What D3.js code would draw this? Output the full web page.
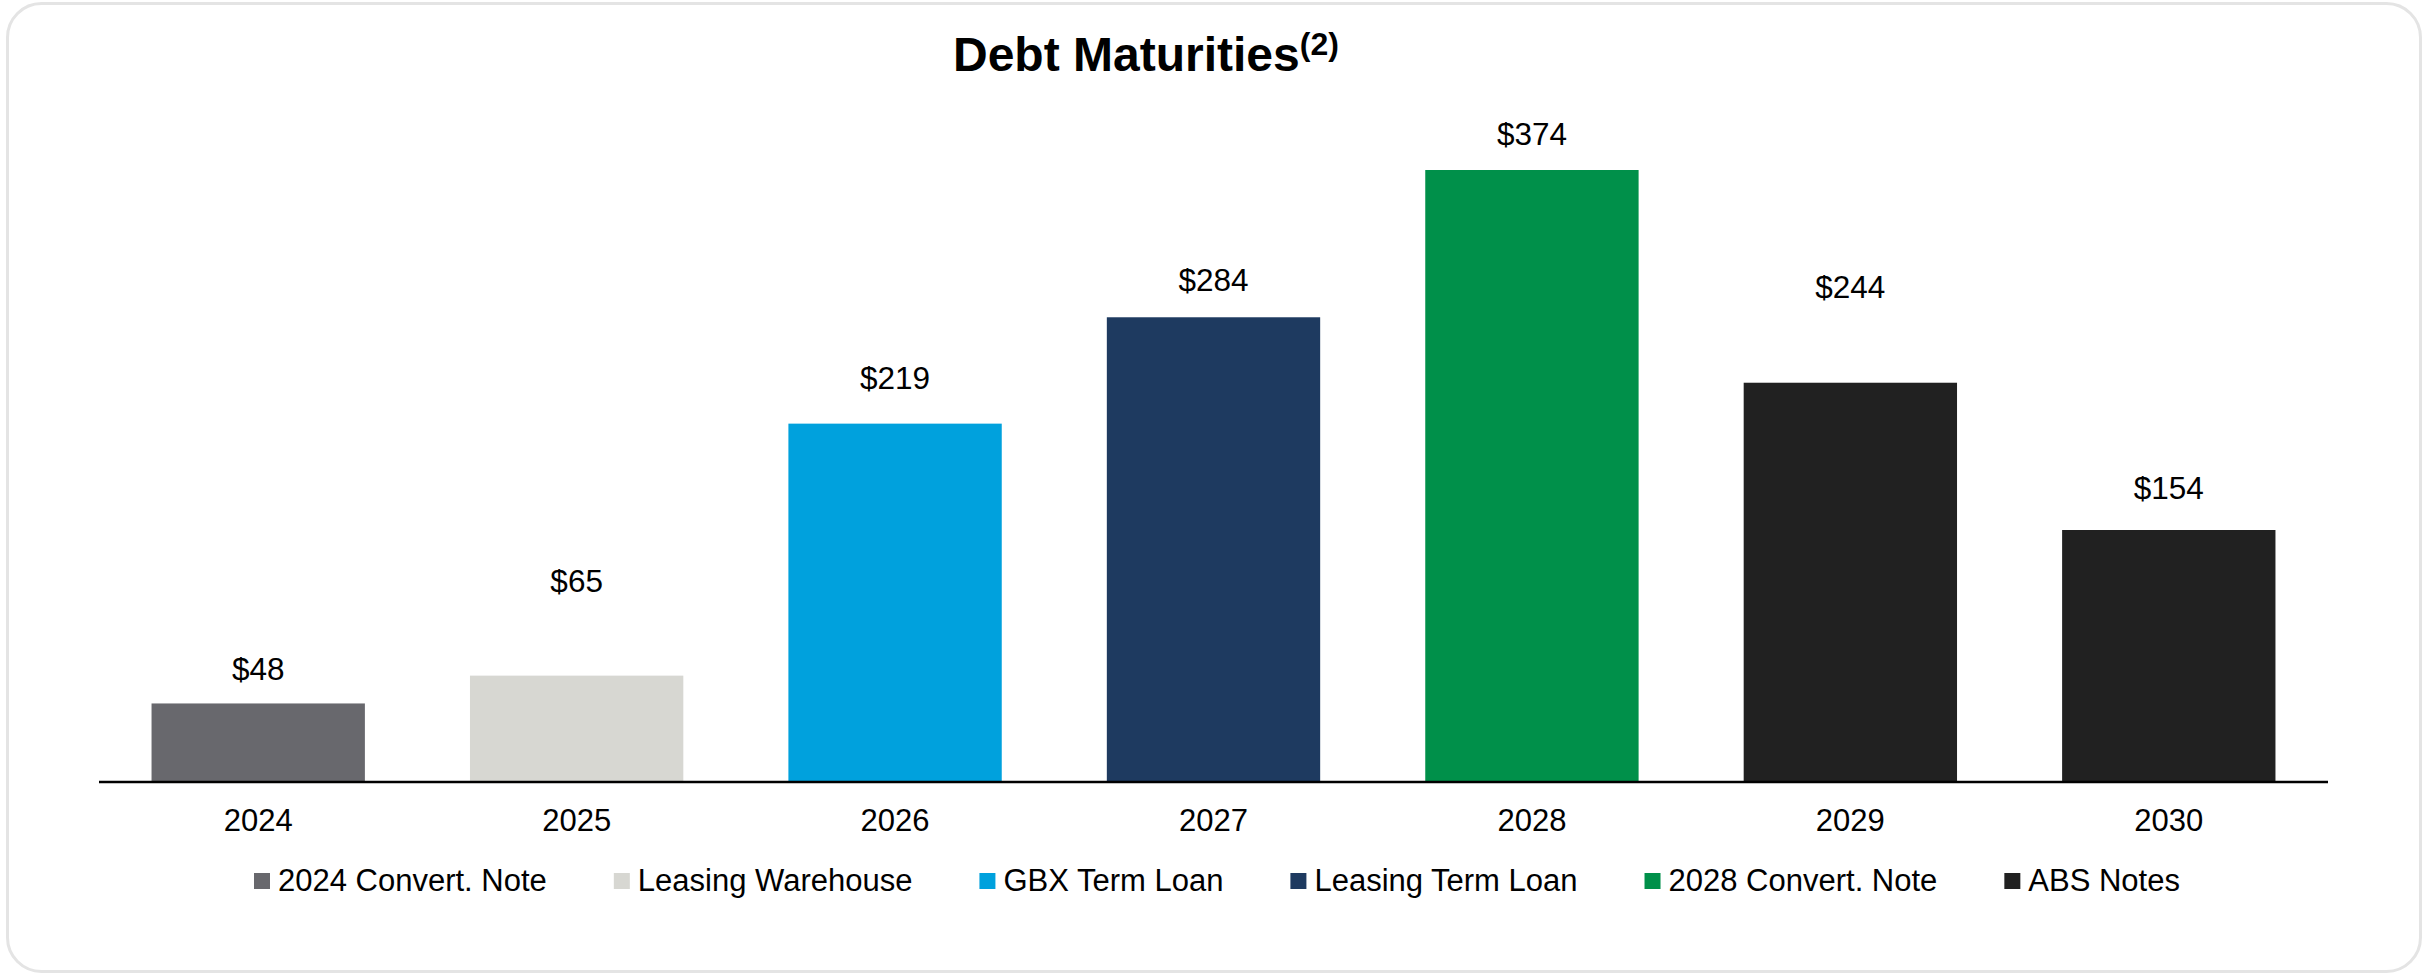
<!DOCTYPE html>
<html>
<head>
<meta charset="utf-8">
<script src="https://cdn.jsdelivr.net/npm/d3@7"></script>
<style>
  html, body { margin: 0; padding: 0; background: #ffffff; }
  svg { display: block; font-family: "Liberation Sans", Arial, Helvetica, sans-serif; }
</style>
</head>
<body>
<svg id="chart" width="2425" height="975"></svg>
<script>
// Debt maturities by year ($ millions)
const years = ["2024", "2025", "2026", "2027", "2028", "2029", "2030"];
const amounts = [48, 65, 219, 284, 374, 244, 154];
const yearSeries = ["2024 Convert. Note", "Leasing Warehouse", "GBX Term Loan", "Leasing Term Loan",
                    "2028 Convert. Note", "ABS Notes", "ABS Notes"];
const seriesNames = ["2024 Convert. Note", "Leasing Warehouse", "GBX Term Loan", "Leasing Term Loan",
                     "2028 Convert. Note", "ABS Notes"];
const seriesColors = ["#68686d", "#d7d7d2", "#00a1dd", "#1e3a60", "#00904a", "#212121"];

// Layout
const W = 2425, H = 975;
const plot = { left: 99, right: 2328, baseline: 782, top: 170 };
// distance between each value label's baseline and its bar top
const labelGap = [23, 84, 35, 26, 25, 85, 31];

const svg = d3.select("#chart");

// Card frame
svg.append("rect")
  .attr("x", 7.5).attr("y", 3.5)
  .attr("width", 2413).attr("height", 968)
  .attr("rx", 34).attr("ry", 34)
  .attr("fill", "#ffffff")
  .attr("stroke", "#e4e4e4")
  .attr("stroke-width", 3);

// Title with superscript footnote marker
const title = svg.append("text")
  .attr("x", 953).attr("y", 71)
  .attr("fill", "#000")
  .attr("font-weight", "bold");
title.append("tspan").attr("font-size", 48).text("Debt Maturities");
title.append("tspan").attr("font-size", 32).attr("dy", -16).text("(2)");

const color = d3.scaleOrdinal().domain(seriesNames).range(seriesColors);

const x = d3.scaleBand()
  .domain(years)
  .range([plot.left, plot.right])
  .paddingInner(0.33)
  .paddingOuter(0.165);

const y = d3.scaleLinear()
  .domain([0, 374])
  .range([plot.baseline, plot.top]);

const rows = years.map((yr, i) => ({ year: yr, value: amounts[i], series: yearSeries[i], gap: labelGap[i] }));

// Bars
svg.append("g").selectAll("rect")
  .data(rows)
  .join("rect")
  .attr("x", d => x(d.year))
  .attr("y", d => y(d.value))
  .attr("width", x.bandwidth())
  .attr("height", d => y(0) - y(d.value))
  .attr("fill", d => color(d.series));

// Value labels
svg.append("g").selectAll("text")
  .data(rows)
  .join("text")
  .attr("x", d => x(d.year) + x.bandwidth() / 2)
  .attr("y", d => y(d.value) - d.gap)
  .attr("text-anchor", "middle")
  .attr("font-size", 31.5)
  .attr("fill", "#000")
  .text(d => "$" + d.value);

// Category axis
const axis = svg.append("g")
  .attr("transform", `translate(0,${plot.baseline})`)
  .call(d3.axisBottom(x).tickSize(0).tickPadding(0));
axis.select(".domain")
  .attr("d", `M${plot.left},0H${plot.right}`)
  .attr("stroke", "#000")
  .attr("stroke-width", 2.5);
axis.selectAll(".tick text")
  .attr("dy", null)
  .attr("y", 49)
  .attr("font-size", 31)
  .attr("font-family", "Liberation Sans, Arial, sans-serif")
  .attr("fill", "#000");

// Legend
const legend = svg.append("g").attr("transform", "translate(254,0)");
let cursor = 0;
seriesNames.forEach((name, i) => {
  const item = legend.append("g").attr("transform", `translate(${cursor},0)`);
  item.append("rect")
    .attr("x", 0).attr("y", 873)
    .attr("width", 16).attr("height", 16)
    .attr("fill", color(name));
  const t = item.append("text")
    .attr("x", 24).attr("y", 891)
    .attr("font-size", 31)
    .attr("fill", "#000")
    .text(name);
  cursor += 24 + t.node().getComputedTextLength() + 67;
});
</script>
</body>
</html>
